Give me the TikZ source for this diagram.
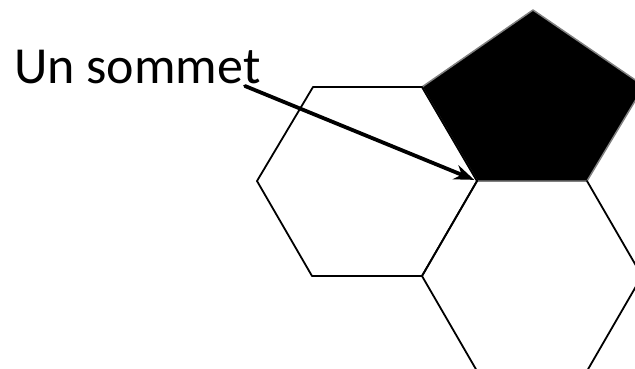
\documentclass[tikz,border=0pt]{standalone}
\usepackage{fontspec}
\setmainfont{Carlito}
\usetikzlibrary{arrows.meta}
\begin{document}
\begin{tikzpicture}[x=1pt, y=-1pt, line join=round, line cap=round, >={Stealth[length=20pt,width=15pt]}]
			\useasboundingbox (0,0) rectangle (635,368);
			\clip (0,0) rectangle (635,368);
			\path
			(313,87) coordinate (A) 
			(422,87) coordinate (B) 
			(477,181) coordinate (C) 
			(422,276) coordinate (D) 
			(312,276) coordinate (E) 
			(257,181) coordinate (F)
			(587,181) coordinate (G)
			(642,276) coordinate (H)
			(587,371) coordinate (I)
			(477,371) coordinate (J)
			(533,10) coordinate (P)
			(644,86) coordinate (Q);
			\fill[black] (B)--(P)--(Q)--(G)--(C)--cycle;
			\draw[gray, line width=1.5pt] (B)--(P)--(Q)--(G)--(C)--cycle;
			\draw[line width=1.8pt] (A)--(B)--(C)--(D)--(E)--(F)--cycle;
			\draw[line width=1.8pt] (C)--(D)--(J)--(I)--(H)--(G);
			\node[anchor=base west, font=\fontsize{52}{60}\selectfont, inner sep=0pt] (label) at (14,83) {Un sommet};
			\path (245,86) coordinate (S);
			\draw[->, line width=3.8pt, shorten >=3pt] (S)--(C);
	\end{tikzpicture}
\end{document}
